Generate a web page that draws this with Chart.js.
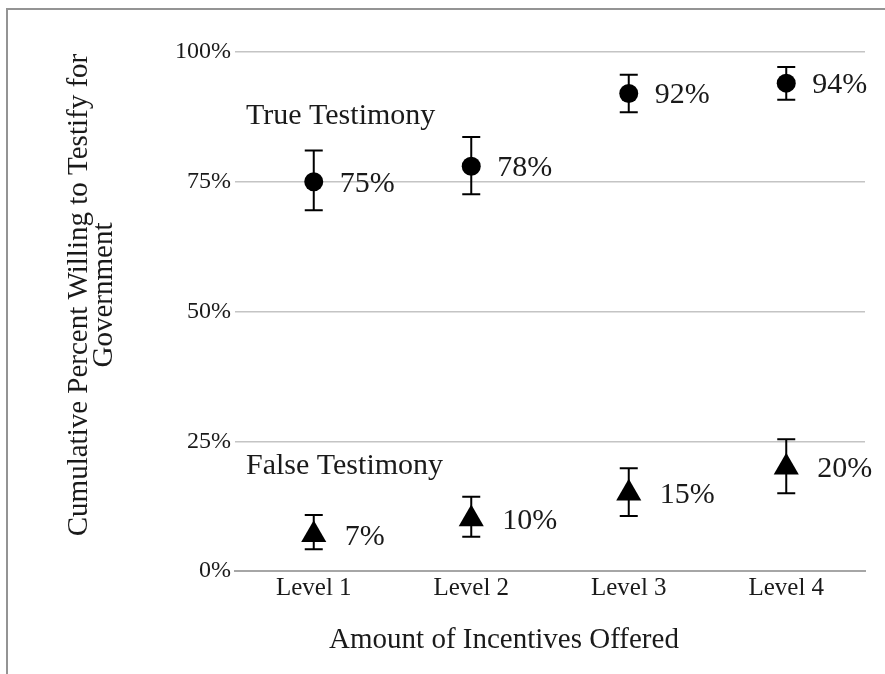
<!DOCTYPE html>
<html>
<head>
<meta charset="utf-8">
<script src="https://cdn.jsdelivr.net/npm/chart.js@4.4.1/dist/chart.umd.min.js"></script>
<style>
    body { margin: 0; background: #fff; }
    #wrap { position: relative; width: 885px; height: 674px; overflow: hidden; }
    #frame { position: absolute; left: 6px; top: 8px; width: 900px; height: 700px;
             border-left: 2px solid #949494; border-top: 2px solid #949494; pointer-events: none; }
</style>
</head>
<body>
<div id="wrap">
    <canvas id="myChart" width="885" height="674"></canvas>
    <div id="frame"></div>
</div>
<script>
// values (percent)
const levels = ["Level 1", "Level 2", "Level 3", "Level 4"];
const trueVals = [75, 78, 92, 94];
const trueLow = [69.5, 72.6, 88.4, 90.8];
const trueHigh = [81, 83.6, 95.6, 97.1];
const falseVals = [7, 10, 15, 20];
const falseLow = [4.2, 6.6, 10.6, 15];
const falseHigh = [10.8, 14.3, 19.8, 25.4];
const yTicks = [0, 25, 50, 75, 100];
const seriesNames = ["True Testimony", "False Testimony"];
const seriesNameAt = [87.7, 20.3]; // y value where the series name sits
const yTitle = ["Cumulative Percent Willing to Testify for", "Government"];
const xTitle = "Amount of Incentives Offered";

const serif = "'Liberation Serif', 'Times New Roman', serif";
const ink = "#1a1a1a";

const errorBars = {
    id: "errorBars",
    beforeDatasetsDraw(chart) {
        const ctx = chart.ctx;
        const y = chart.scales.y;
        ctx.save();
        ctx.strokeStyle = "#000";
        ctx.lineWidth = 2;
        chart.data.datasets.forEach((ds, di) => {
            const meta = chart.getDatasetMeta(di);
            meta.data.forEach((pt, i) => {
                const top = y.getPixelForValue(ds.high[i]);
                const bot = y.getPixelForValue(ds.low[i]);
                ctx.beginPath();
                ctx.moveTo(pt.x, top); ctx.lineTo(pt.x, bot);
                ctx.moveTo(pt.x - 9, top); ctx.lineTo(pt.x + 9, top);
                ctx.moveTo(pt.x - 9, bot); ctx.lineTo(pt.x + 9, bot);
                ctx.stroke();
            });
        });
        ctx.restore();
    },
    afterDatasetsDraw(chart) {
        const ctx = chart.ctx;
        const area = chart.chartArea;
        const y = chart.scales.y;
        ctx.save();
        ctx.fillStyle = ink;
        ctx.textBaseline = "middle";
        ctx.textAlign = "left";
        chart.data.datasets.forEach((ds, di) => {
            const meta = chart.getDatasetMeta(di);
            const off = di == 0 ? 26 : 31;
            ctx.font = "30px " + serif;
            meta.data.forEach((pt, i) => {
                ctx.fillText(ds.data[i] + "%", pt.x + off, pt.y + 2);
            });
            ctx.font = "30px " + serif;
            ctx.fillText(seriesNames[di], area.left + 11, y.getPixelForValue(seriesNameAt[di]));
        });
        ctx.restore();
    },
    afterDraw(chart) {
        const ctx = chart.ctx;
        ctx.save();
        ctx.fillStyle = ink;
        ctx.textAlign = "center";
        ctx.textBaseline = "middle";
        ctx.font = "29px " + serif;
        ctx.fillText(xTitle, 504, 640);
        ctx.translate(0, 295);
        ctx.rotate(-Math.PI / 2);
        ctx.fillText(yTitle[0], 0, 79);
        ctx.fillText(yTitle[1], 0, 104);
        ctx.restore();
    }
};

let ctx = document.getElementById("myChart").getContext("2d");
let myChart = new Chart(ctx, {
    type: "line",
    data: {
        labels: levels,
        datasets: [{
            label: seriesNames[0],
            data: trueVals,
            low: trueLow,
            high: trueHigh,
            showLine: false,
            pointStyle: "circle",
            pointRadius: 9.5,
            backgroundColor: "#000",
            borderColor: "#000",
            borderWidth: 0
        }, {
            label: seriesNames[1],
            data: falseVals,
            low: falseLow,
            high: falseHigh,
            showLine: false,
            pointStyle: "triangle",
            pointRadius: 14.5,
            backgroundColor: "#000",
            borderColor: "#000",
            borderWidth: 0
        }]
    },
    options: {
        responsive: false,
        animation: false,
        devicePixelRatio: 1,
        layout: { padding: { left: 0, top: 52, right: 20, bottom: 0 } },
        plugins: { legend: { display: false }, tooltip: { enabled: false } },
        scales: {
            x: {
                type: "category",
                offset: true,
                grid: { display: false, drawTicks: false },
                border: { display: true, color: "#a6a6a6", width: 2 },
                ticks: { color: ink, padding: 2, font: { family: serif, size: 25 } },
                afterFit: s => { s.height = 103; }
            },
            y: {
                min: 0,
                max: 100,
                afterBuildTicks: s => { s.ticks = yTicks.map(v => ({ value: v })); },
                grid: { color: "#c4c4c4", lineWidth: 1.5, drawTicks: false },
                border: { display: false },
                ticks: { color: ink, padding: 4, font: { family: serif, size: 24 }, callback: v => v + "%" },
                afterFit: s => { s.width = 235; }
            }
        }
    },
    plugins: [errorBars]
});
</script>
</body>
</html>
